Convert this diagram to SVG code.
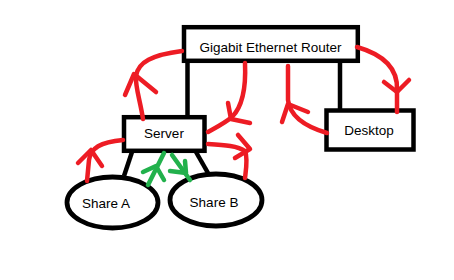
<svg xmlns="http://www.w3.org/2000/svg" width="454" height="280" viewBox="0 0 454 280">
<style>
.box{fill:#fff;stroke:#000;stroke-width:4.5}
.link{stroke:#000;stroke-width:4.5;fill:none}
.red{stroke:#ed1c24;stroke-width:4.5;fill:none;stroke-linecap:round;stroke-linejoin:round}
.green{stroke:#22b14c;stroke-width:4.5;fill:none;stroke-linecap:round;stroke-linejoin:round}
text{font-family:"Liberation Sans",Arial,sans-serif;font-size:13.5px;fill:#000;text-anchor:middle}
</style>
<rect width="454" height="280" fill="#fff"/>
<g id="connectors">
<line class="link" x1="187.5" y1="60" x2="187.5" y2="118"/>
<line class="link" x1="340" y1="60" x2="340" y2="111"/>
<line class="link" x1="132" y1="152" x2="124" y2="176"/>
<line class="link" x1="196" y1="152" x2="208" y2="173"/>
</g>
<g id="router"><rect class="box" x="184" y="27.2" width="173.8" height="33.6"/><text x="270.5" y="51.5">Gigabit Ethernet Router</text></g>
<g id="server"><rect class="box" x="124" y="117.2" width="80.5" height="33.6"/><text x="164" y="137.5">Server</text></g>
<g id="desktop"><rect class="box" x="326.5" y="110.5" width="87" height="39"/><text x="369" y="135">Desktop</text></g>
<g id="shareA"><ellipse cx="112.5" cy="202.5" rx="45.5" ry="25.5" fill="#fff" stroke="#000" stroke-width="4.8"/><text x="106" y="207.5">Share A</text></g>
<g id="shareB"><ellipse cx="216" cy="200" rx="46" ry="26" fill="#fff" stroke="#000" stroke-width="4.8"/><text x="214" y="206.5">Share B</text></g>
<g id="flows">
<path class="red" d="M143,119 C140,100 135,86 136,76 C138,62 152,55 182,51"/>
<path class="red" d="M125,95 L134,74 L156,92"/>
<path class="red" d="M245,63 C246,85 244,105 232,117 C225,123 215,128 208,132"/>
<path class="red" d="M228,103 L231,119 L250,123"/>
<path class="red" d="M327,133 C310,128 290,118 288,100 L288,66"/>
<path class="red" d="M282,122 L288,104 L308,112"/>
<path class="red" d="M357,47 C385,55 398,70 397,90 L397,112"/>
<path class="red" d="M384,82 L397,92 L409,80"/>
<path class="red" d="M87,181 L89,160 C91,148 100,142 123,140"/>
<path class="red" d="M78,163 L91,150 L102,166"/>
<path class="red" d="M208,144 C225,145 238,146 245,151 C248,158 246,170 245,178"/>
<path class="red" d="M238,135 L250,149 L235,158"/>
<path class="green" d="M148,185 L164,153"/>
<path class="green" d="M143,172 L156,166 L164,180"/>
<path class="green" d="M172,155 L190,180"/>
<path class="green" d="M170,171 L186,173 L185,161"/>
</g>
</svg>
